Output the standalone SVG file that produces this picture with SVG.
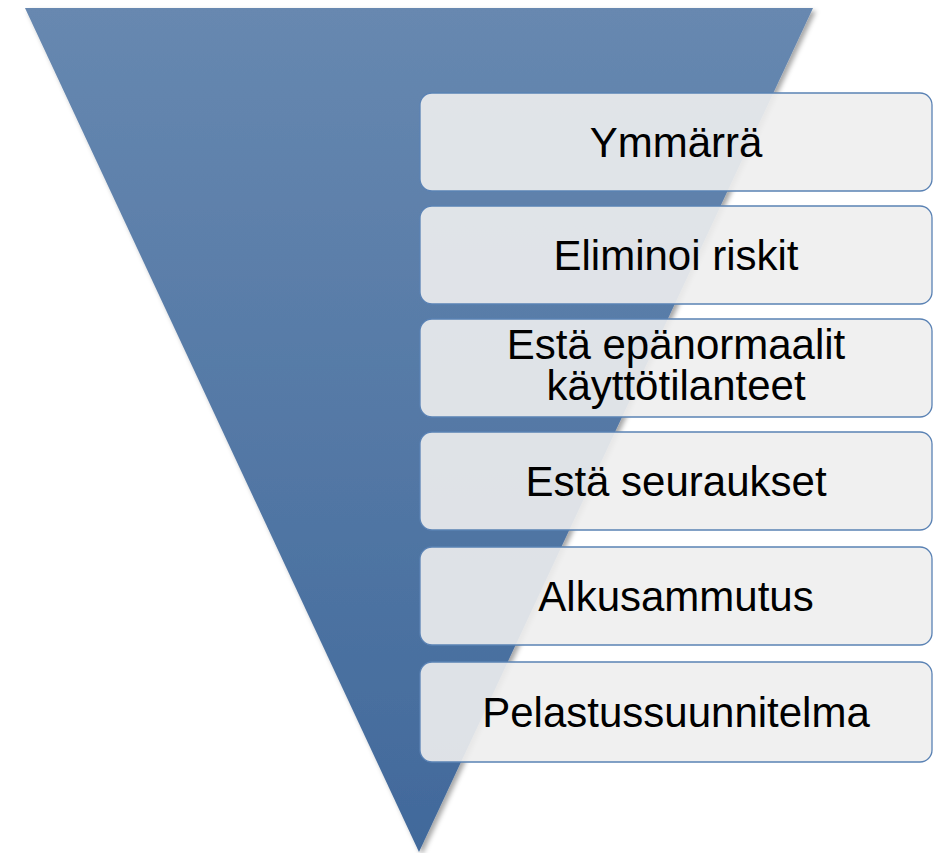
<svg xmlns="http://www.w3.org/2000/svg" width="940" height="853" viewBox="0 0 940 853">
<defs>
<linearGradient id="tg" x1="0" y1="0" x2="0" y2="1">
<stop offset="0" stop-color="#6788b0"/>
<stop offset="1" stop-color="#41699b"/>
</linearGradient>
<filter id="sh" x="-10%" y="-10%" width="120%" height="120%">
<feDropShadow dx="3" dy="3" stdDeviation="2.5" flood-color="#000" flood-opacity="0.35"/>
</filter>
</defs>
<style>
.box{fill:#eeeeee;fill-opacity:0.9;stroke:#5a82b4;stroke-width:1.3}
.t{font-family:"Liberation Sans",Arial,sans-serif;font-size:42px;fill:#000;text-anchor:middle}
</style>
<g id="funnel">
<polygon points="25,8 813,8 419,852" fill="url(#tg)" filter="url(#sh)"/>
</g>
<g id="connectors"/>
<g id="n1"><rect class="box" x="420" y="93" width="512" height="98" rx="12"/><text class="t" x="676" y="157">Ymmärrä</text></g>
<g id="n2"><rect class="box" x="420" y="206" width="512" height="98" rx="12"/><text class="t" x="676" y="270">Eliminoi riskit</text></g>
<g id="n3"><rect class="box" x="420" y="319" width="512" height="98" rx="12"/><text class="t" x="676" y="359">Estä epänormaalit</text><text class="t" x="676" y="400">käyttötilanteet</text></g>
<g id="n4"><rect class="box" x="420" y="432" width="512" height="98" rx="12"/><text class="t" x="676" y="496">Estä seuraukset</text></g>
<g id="n5"><rect class="box" x="420" y="547" width="512" height="98" rx="12"/><text class="t" x="676" y="611">Alkusammutus</text></g>
<g id="n6"><rect class="box" x="420" y="662" width="512" height="100" rx="12"/><text class="t" x="676" y="727">Pelastussuunnitelma</text></g>
</svg>
